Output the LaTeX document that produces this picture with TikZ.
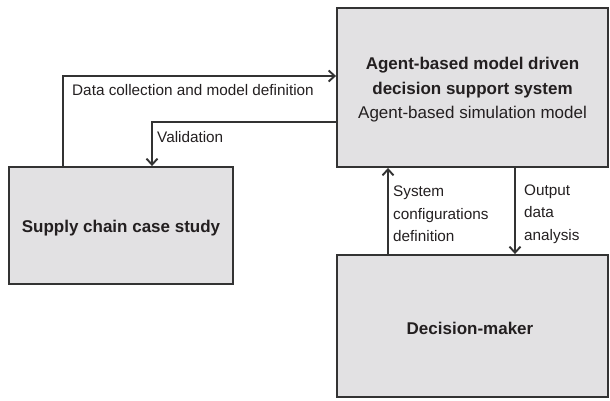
\documentclass[tikz,border=0pt]{standalone}
\usepackage{fontspec}
\setmainfont{Liberation Sans}
\usetikzlibrary{arrows.meta}
\definecolor{boxfill}{HTML}{E2E1E3}
\definecolor{edge}{HTML}{333333}
\definecolor{ink}{HTML}{231F20}
\begin{document}
\begin{tikzpicture}[x=1pt,y=-1pt,
  block/.style={draw=edge,line width=1.9pt,fill=boxfill,rectangle,inner sep=0pt},
  title/.style={inner sep=0pt,text=ink,align=center,font=\fontsize{17}{24.5}\selectfont},
  flow/.style={draw=edge,line width=1.9pt,-{Straight Barb[length=6pt,width=11pt]}},
  lbl/.style={inner sep=0pt,text=ink,align=left,font=\fontsize{15.3}{22.5}\selectfont}]
\useasboundingbox (0,0) rectangle (610,400);

% boxes
\node[block,minimum width=271pt,minimum height=159pt] (dss) at (472.5,87.5) {};
\node[block,minimum width=271pt,minimum height=142pt] (dm) at (472.5,326) {};
\node[block,minimum width=224pt,minimum height=117pt] (sc) at (121,225.5) {};

% box captions
\node[title] (dsstext) at (472.5,90)
  {\textbf{Agent-based model driven}\\\textbf{decision support system}\\Agent-based simulation model};
\node[title,font=\fontsize{17}{20}\selectfont\bfseries] (dmtext) at (470,328) {Decision-maker};
\node[title,font=\fontsize{17}{20}\selectfont\bfseries] (sctext) at (121,228) {Supply chain case study};

% bend points of the feedback loops
\coordinate (up) at (63,76);
\coordinate (back) at (152,122);
\coordinate (cfg) at (388,0);
\coordinate (out) at (515,0);

% connectors
\draw[flow] (sc.north -| up) -- (up) -- (up -| dss.west);
\draw[flow] (dss.west |- back) -- (back) -- (back |- sc.north);
\draw[flow] (dm.north -| cfg) -- (dss.south -| cfg);
\draw[flow] (dss.south -| out) -- (dm.north -| out);

% labels
\node[lbl,anchor=west] (ldata) at (72,90) {Data collection and model definition};
\node[lbl,anchor=west] (lval) at (157,137) {Validation};
\node[lbl,anchor=west] (lcfg) at (393,214) {System\\configurations\\definition};
\node[lbl,anchor=west] (lout) at (524,214) {Output\\data\\analysis};
\end{tikzpicture}
\end{document}
